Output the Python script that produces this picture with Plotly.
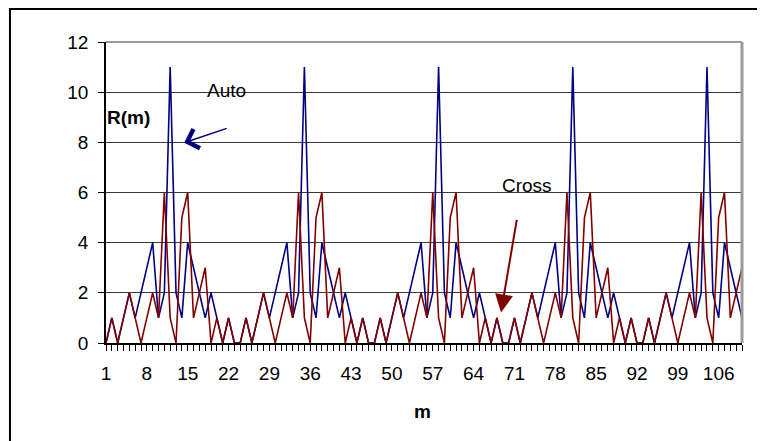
import plotly.graph_objects as go

# Category index m (1..110)
m_values = list(range(1, 111))

# Auto-correlation values R(m)
auto_values = [
    0, 1, 0, 1, 2, 1, 2, 3, 4, 1, 2, 11, 2, 1, 4, 3, 2, 1, 2, 1, 0, 1, 0,
    0, 1, 0, 1, 2, 1, 2, 3, 4, 1, 2, 11, 2, 1, 4, 3, 2, 1, 2, 1, 0, 1, 0,
    0, 1, 0, 1, 2, 1, 2, 3, 4, 1, 2, 11, 2, 1, 4, 3, 2, 1, 2, 1, 0, 1, 0,
    0, 1, 0, 1, 2, 1, 2, 3, 4, 1, 2, 11, 2, 1, 4, 3, 2, 1, 2, 1, 0, 1, 0,
    0, 1, 0, 1, 2, 1, 2, 3, 4, 1, 2, 11, 2, 1, 4, 3, 2, 1,
]

# Cross-correlation values R(m)
cross_values = [
    0, 1, 0, 1, 2, 1, 0, 1, 2, 1, 6, 1, 0, 5, 6, 1, 2, 3, 0, 1, 0, 1, 0,
    0, 1, 0, 1, 2, 1, 0, 1, 2, 1, 6, 1, 0, 5, 6, 1, 2, 3, 0, 1, 0, 1, 0,
    0, 1, 0, 1, 2, 1, 0, 1, 2, 1, 6, 1, 0, 5, 6, 1, 2, 3, 0, 1, 0, 1, 0,
    0, 1, 0, 1, 2, 1, 0, 1, 2, 1, 6, 1, 0, 5, 6, 1, 2, 3, 0, 1, 0, 1, 0,
    0, 1, 0, 1, 2, 1, 0, 1, 2, 1, 6, 1, 0, 5, 6, 1, 2, 3,
]

x_tick_vals = [1, 8, 15, 22, 29, 36, 43, 50, 57, 64, 71, 78, 85, 92, 99, 106]
x_tick_text = [str(v) for v in x_tick_vals]
y_tick_vals = [0, 2, 4, 6, 8, 10, 12]

FONT = "Arial, Liberation Sans, sans-serif"

fig = go.Figure()
fig.add_trace(go.Scatter(x=m_values, y=auto_values, mode="lines", name="Auto",
                         line=dict(color="#000080", width=1.6)))
fig.add_trace(go.Scatter(x=m_values, y=cross_values, mode="lines", name="Cross",
                         line=dict(color="#800000", width=1.6)))

fig.update_layout(
    width=765, height=441,
    margin=dict(l=98, r=31, t=34, b=106, autoexpand=False),
    plot_bgcolor="white", paper_bgcolor="white",
    showlegend=False,
    font=dict(family=FONT, size=19, color="black"),
)

fig.update_xaxes(
    range=[1, 110], tickmode="array", tickvals=x_tick_vals, ticktext=x_tick_text,
    ticks="outside", ticklen=6, tickcolor="black", tickwidth=1,
    showline=True, linecolor="black", linewidth=1.5,
    showgrid=False, zeroline=False, ticklabelstandoff=6,
    minor=dict(tickmode="linear", tick0=1, dtick=1, ticks="outside",
               ticklen=6, tickcolor="black", tickwidth=1, showgrid=False),
)
fig.update_yaxes(
    range=[0, 12], tickmode="array", tickvals=y_tick_vals,
    ticks="outside", ticklen=6, tickcolor="black",
    showline=True, linecolor="black", linewidth=1.5,
    showgrid=True, gridcolor="#3a3a3a", gridwidth=1,
    zeroline=False, ticklabelstandoff=6,
)

# plot-area border (top and right, grey) and outer chart border
fig.add_shape(type="line", xref="paper", yref="paper", x0=0, x1=1, y0=1, y1=1,
              line=dict(color="#9a9a9a", width=2))
fig.add_shape(type="line", xref="paper", yref="paper", x0=1, x1=1, y0=0, y1=1,
              line=dict(color="#9a9a9a", width=3))
fig.add_shape(type="rect", xref="paper", yref="paper", x0=-0.151, x1=1.2,
              y0=-0.5, y1=1.11, line=dict(color="black", width=2))

# Texts
fig.add_annotation(x=4.8, y=8.98, text="<b>R(m)</b>", showarrow=False,
                   xanchor="center", yanchor="middle", font=dict(size=19, family=FONT))
fig.add_annotation(x=21.6, y=10.06, text="Auto", showarrow=False,
                   xanchor="center", yanchor="middle", font=dict(size=19, family=FONT))
fig.add_annotation(x=73.1, y=6.26, text="Cross", showarrow=False,
                   xanchor="center", yanchor="middle", font=dict(size=19, family=FONT))
fig.add_annotation(xref="paper", yref="paper", x=0.497, y=-0.227, text="<b>m</b>",
                   showarrow=False, xanchor="center", yanchor="middle",
                   font=dict(size=19, family=FONT))

# Arrows
fig.add_annotation(x=14.4, y=7.98, text="", showarrow=True, ax=44, ay=-15,
                   arrowhead=4, arrowsize=2.6, arrowwidth=1.5, arrowcolor="#000080")
fig.add_annotation(x=68.7, y=1.22, text="", showarrow=True, ax=16, ay=-94,
                   arrowhead=2, arrowsize=1.8, arrowwidth=2, arrowcolor="#800000")

fig.write_html("out.html")
